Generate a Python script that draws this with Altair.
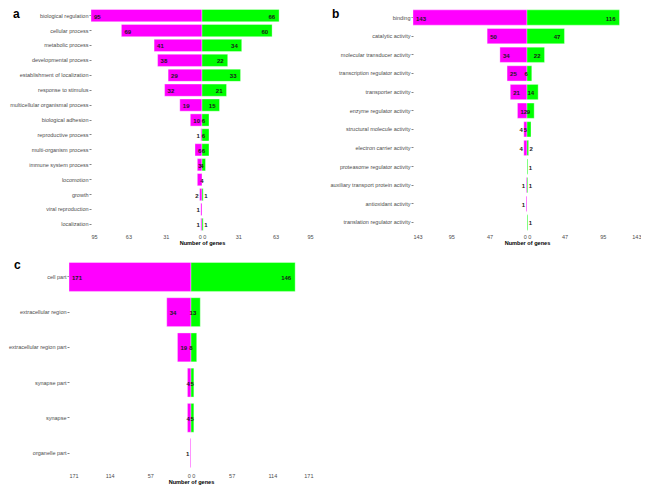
import altair as alt
import pandas as pd

# ---------------- data ----------------
a_categories = ["biological regulation", "cellular process", "metabolic process",
                "developmental process", "establishment of localization",
                "response to stimulus", "multicellular organismal process",
                "biological adhesion", "reproductive process", "multi-organism process",
                "immune system process", "locomotion", "growth", "viral reproduction",
                "localization"]
a_left = [95, 69, 41, 38, 29, 32, 19, 10, 1, 6, 4, 4, 2, 1, 1]
a_right = [66, 60, 34, 22, 33, 21, 15, 6, 6, 6, 3, 0, 1, 0, 1]
a_ticks = [95, 63, 31]

b_categories = ["binding", "catalytic activity", "molecular transducer activity",
                "transcription regulator activity", "transporter activity",
                "enzyme regulator activity", "structural molecule activity",
                "electron carrier activity", "proteasome regulator activity",
                "auxiliary transport protein activity", "antioxidant activity",
                "translation regulator activity"]
b_left = [143, 50, 34, 25, 21, 12, 4, 4, 0, 1, 1, 0]
b_right = [116, 47, 22, 6, 14, 9, 5, 2, 1, 1, 0, 1]
b_ticks = [143, 95, 47]

c_categories = ["cell part", "extracellular region", "extracellular region part",
                "synapse part", "synapse", "organelle part"]
c_left = [171, 34, 19, 5, 5, 1]
c_right = [146, 13, 8, 4, 4, 0]
c_ticks = [171, 114, 57]

MAGENTA = "#FF00FF"
GREEN = "#00FF00"
FONT = "Liberation Sans"


def long_table(cats, left, right):
    rows = []
    for c, l, r in zip(cats, left, right):
        if l > 0:
            rows.append({"category": c, "side": "left", "count": l, "signed": -l})
        if r > 0:
            rows.append({"category": c, "side": "right", "count": r, "signed": r})
    return pd.DataFrame(rows)


def panel(cats, left, right, ticks, letter, width, height, small, letter_x, shift=0):
    df = long_table(cats, left, right)
    m = ticks[0]
    tick_vals = [-t for t in ticks] + [0] + ticks[::-1]

    y = alt.Y("category:N", sort=cats,
              scale=alt.Scale(paddingInner=0.18, paddingOuter=0.1),
              axis=alt.Axis(title=None, domain=False, ticks=True, tickSize=2,
                            tickWidth=0.6, tickColor="#333333", labelPadding=1,
                            labelFont=FONT, labelFontSize=5.5, labelColor="#4D4D4D",
                            labelLimit=200, offset=shift))
    xscale = alt.Scale(domain=[-m, m], nice=False)
    if shift:
        xscale = alt.Scale(domain=[-m, m], nice=False, range=[-shift, width])
    x = alt.X("signed:Q",
              scale=xscale,
              axis=alt.Axis(values=tick_vals, tickCount=20, grid=False, domain=False,
                            ticks=False,
                            labelExpr="datum.value == 0 ? '0 0' : '' + abs(datum.value)",
                            labelFont=FONT, labelFontSize=5.5, labelColor="#4D4D4D",
                            labelPadding=2, title="Number of genes", titleFont=FONT,
                            titleFontSize=5.6, titleFontWeight="bold", titleColor="black",
                            titlePadding=1, labelOverlap=False, labelSeparation=0))

    base = alt.Chart(df)
    bars = base.mark_bar(stroke="white", strokeWidth=0.6, strokeOpacity=0.6).encode(
        x=x, y=y,
        color=alt.Color("side:N", scale=alt.Scale(domain=["left", "right"],
                                                   range=[MAGENTA, GREEN]), legend=None),
    )
    tprops = dict(font=FONT, fontSize=6, fontWeight="bold", color="#1A1A1A",
                  baseline="middle", dy=1)
    ycat = alt.Y("category:N", sort=cats)
    lin = base.transform_filter(
        f"datum.side == 'left' && datum.count > {small}").mark_text(
        align="left", dx=3, **tprops).encode(x="signed:Q", y=ycat, text="count:Q")
    lout = base.transform_filter(
        f"datum.side == 'left' && datum.count <= {small}").mark_text(
        align="right", dx=-1, **tprops).encode(x="signed:Q", y=ycat, text="count:Q")
    rin = base.transform_filter(
        f"datum.side == 'right' && datum.count > {small}").mark_text(
        align="right", dx=-4, **tprops).encode(x="signed:Q", y=ycat, text="count:Q")
    rout = base.transform_filter(
        f"datum.side == 'right' && datum.count <= {small}").mark_text(
        align="left", dx=1, **tprops).encode(x="signed:Q", y=ycat, text="count:Q")
    tag = alt.Chart(pd.DataFrame({"t": [letter]})).mark_text(
        font=FONT, fontSize=12, fontWeight="bold", color="black",
        align="left", baseline="alphabetic").encode(
        text="t:N", x=alt.value(letter_x - shift), y=alt.value(10))
    return alt.layer(bars, lin, lout, rin, rout, tag).properties(width=width, height=height)


pa = panel(a_categories, a_left, a_right, a_ticks, "a", 222, 224, 2, -78)
pb = panel(b_categories, b_left, b_right, b_ticks, "b", 228, 224, 4, -81)
pc = panel(c_categories, c_left, c_right, c_ticks, "c", 222, 212, 1, -55, shift=22)

top = alt.hconcat(pa, pb, spacing=16)
chart = alt.vconcat(top, pc, spacing=12).properties(
    padding=0).configure_view(strokeWidth=0)

chart.save("out.html", embed_options={"renderer": "svg", "actions": False})
